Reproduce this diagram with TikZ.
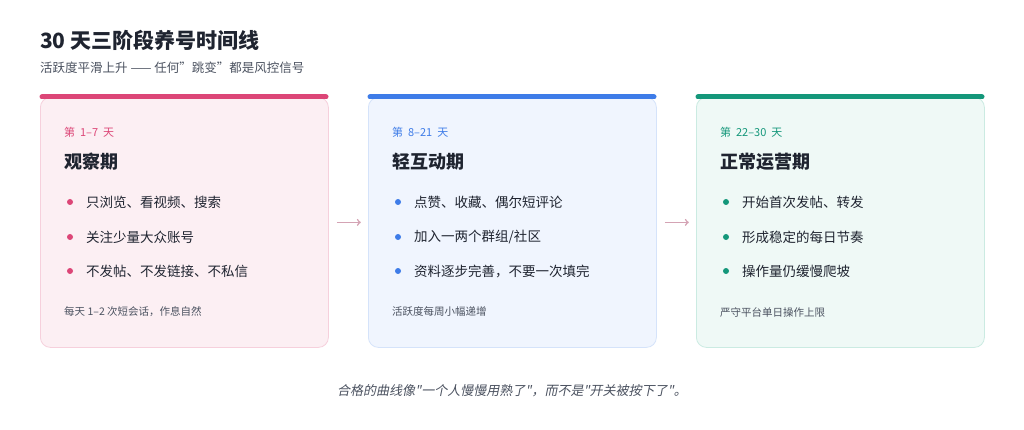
\documentclass[tikz,border=0pt]{standalone}
\usepackage{fontspec}
\setmainfont{Noto Sans CJK SC}
\newfontfamily\cjkslant[FakeSlant=0.2]{Noto Sans CJK SC}
\usepackage{tikz}
\definecolor{inkc}{HTML}{1F2430}
\definecolor{subc}{HTML}{4B5260}
\definecolor{pinkc}{HTML}{DC4677}
\definecolor{pinkf}{HTML}{FCEFF3}
\definecolor{pinkb}{HTML}{F6D0DC}
\definecolor{bluec}{HTML}{3E7CE8}
\definecolor{bluef}{HTML}{F0F5FE}
\definecolor{blueb}{HTML}{D5E3FA}
\definecolor{greenc}{HTML}{14977A}
\definecolor{greenf}{HTML}{EFF9F6}
\definecolor{greenb}{HTML}{CBEBE2}
\definecolor{arrc}{HTML}{D4A3B4}
\tikzset{
  card/.style={draw=#1b,fill=#1f,rounded corners=10pt,line width=0.8pt,minimum width=288pt,minimum height=250pt,anchor=north west,inner sep=0pt},
  bar/.style={line width=5pt,line cap=round,draw=#1c},
  txt/.style={anchor=west,inner sep=0pt,text=inkc},
  dot/.style={circle,fill=#1c,inner sep=0pt,minimum size=6pt}
}
\begin{document}
\begin{tikzpicture}[x=1pt,y=-1pt]
\useasboundingbox (0,0) rectangle (1024,430);
\fill[white] (0,0) rectangle (1024,430);
\node[txt,font=\fontsize{21}{21}\selectfont\bfseries] (title) at (40,40) {30 天三阶段养号时间线};
\node[txt,text=subc,font=\fontsize{12.5}{12.5}\selectfont] (sub) at (40,68) {活跃度平滑上升 —— 任何"跳变"都是风控信号};
% cards
\node[card=pink] (c1) at (40,97) {};
\node[card=blue] (c2) at (368,97) {};
\node[card=green] (c3) at (696,97) {};
\draw[bar=pink] (42,97) -- (326,97);
\draw[bar=blue] (370,97) -- (654,97);
\draw[bar=green] (698,97) -- (982,97);
% card 1
\node[txt,text=pinkc,font=\fontsize{11}{11}\selectfont] (d1) at (64,132) {第\ \ 1–7\ \ 天};
\node[txt,font=\fontsize{18}{18}\selectfont\bfseries] (h1) at (64,162) {观察期};
\node[dot=pink] (p11) at (70,202) {};
\node[txt,font=\fontsize{13.5}{13.5}\selectfont] (t11) at (86,202) {只浏览、看视频、搜索};
\node[dot=pink] (p12) at (70,237) {};
\node[txt,font=\fontsize{13.5}{13.5}\selectfont] (t12) at (86,237) {关注少量大众账号};
\node[dot=pink] (p13) at (70,271) {};
\node[txt,font=\fontsize{13.5}{13.5}\selectfont] (t13) at (86,271) {不发帖、不发链接、不私信};
\node[txt,text=subc,font=\fontsize{10.5}{10.5}\selectfont] (f1) at (64,312) {每天 1–2 次短会话，作息自然};
% card 2
\node[txt,text=bluec,font=\fontsize{11}{11}\selectfont] (d2) at (392,132) {第\ \ 8–21\ \ 天};
\node[txt,font=\fontsize{18}{18}\selectfont\bfseries] (h2) at (392,162) {轻互动期};
\node[dot=blue] (p21) at (398,202) {};
\node[txt,font=\fontsize{13.5}{13.5}\selectfont] (t21) at (414,202) {点赞、收藏、偶尔短评论};
\node[dot=blue] (p22) at (398,237) {};
\node[txt,font=\fontsize{13.5}{13.5}\selectfont] (t22) at (414,237) {加入一两个群组/社区};
\node[dot=blue] (p23) at (398,271) {};
\node[txt,font=\fontsize{13.5}{13.5}\selectfont] (t23) at (414,271) {资料逐步完善，不要一次填完};
\node[txt,text=subc,font=\fontsize{10.5}{10.5}\selectfont] (f2) at (392,312) {活跃度每周小幅递增};
% card 3
\node[txt,text=greenc,font=\fontsize{11}{11}\selectfont] (d3) at (720,132) {第\ \ 22–30\ \ 天};
\node[txt,font=\fontsize{18}{18}\selectfont\bfseries] (h3) at (720,162) {正常运营期};
\node[dot=green] (p31) at (726,202) {};
\node[txt,font=\fontsize{13.5}{13.5}\selectfont] (t31) at (742,202) {开始首次发帖、转发};
\node[dot=green] (p32) at (726,237) {};
\node[txt,font=\fontsize{13.5}{13.5}\selectfont] (t32) at (742,237) {形成稳定的每日节奏};
\node[dot=green] (p33) at (726,271) {};
\node[txt,font=\fontsize{13.5}{13.5}\selectfont] (t33) at (742,271) {操作量仍缓慢爬坡};
\node[txt,text=subc,font=\fontsize{10.5}{10.5}\selectfont] (f3) at (720,312) {严守平台单日操作上限};
% arrows
\draw[->,arrc,line width=1.5pt] (c1.east) ++(8,0) coordinate (a1) -- ++(24,0);
\draw[->,arrc,line width=1.5pt] (c2.east) ++(8,0) coordinate (a2) -- ++(24,0);
% caption
\node[text=subc,font=\fontsize{13}{13}\selectfont\cjkslant,inner sep=0pt] (cap) at (512,391) {合格的曲线像"一个人慢慢用熟了"，而不是"开关被按下了"。};
\end{tikzpicture}
\end{document}
